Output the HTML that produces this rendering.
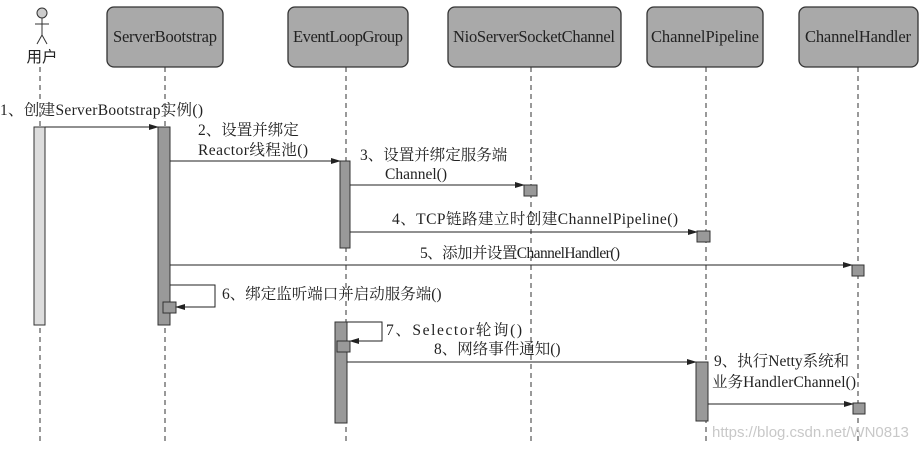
<!DOCTYPE html>
<html><head><meta charset="utf-8"><style>
body{margin:0;background:#fff;}
svg text{font-family:"Liberation Serif","Noto Serif CJK SC",serif;font-size:15.5px;fill:#222;}
svg text.h{font-size:16.5px;}
</style></head><body>
<svg width="923" height="449" viewBox="0 0 923 449" xmlns="http://www.w3.org/2000/svg">
<defs>
<marker id="a" markerWidth="10" markerHeight="8" refX="9" refY="4" orient="auto" markerUnits="userSpaceOnUse">
<path d="M0,1 L10,4 L0,7 Z" fill="#222"/></marker>
</defs>
<g fill="#a9a9a9" stroke="#333" stroke-width="1.3">
<rect x="107" y="7" width="116" height="60" rx="7"/>
<rect x="288" y="7" width="120" height="60" rx="7"/>
<rect x="448" y="7" width="173" height="60" rx="7"/>
<rect x="647" y="7" width="116" height="60" rx="7"/>
<rect x="799" y="7" width="119" height="60" rx="7"/>
</g>
<text class="h" x="165" y="42" text-anchor="middle" textLength="104">ServerBootstrap</text>
<text class="h" x="348" y="42" text-anchor="middle" textLength="110">EventLoopGroup</text>
<text class="h" x="534" y="42" text-anchor="middle" textLength="162">NioServerSocketChannel</text>
<text class="h" x="705" y="42" text-anchor="middle" textLength="108">ChannelPipeline</text>
<text class="h" x="858" y="42" text-anchor="middle" textLength="106">ChannelHandler</text>
<g stroke="#333" stroke-width="1" fill="none">
<circle cx="42" cy="13" r="5" fill="#ccc"/>
<line x1="42" y1="18" x2="42" y2="35"/><line x1="35" y1="24" x2="49" y2="24"/>
<line x1="42" y1="35" x2="37" y2="44"/><line x1="42" y1="35" x2="47" y2="44"/>
</g>
<text x="42" y="62" text-anchor="middle" style="font-family:'Noto Sans CJK SC',sans-serif">用户</text>
<g stroke="#333" stroke-width="1" stroke-dasharray="5,4">
<line x1="40" y1="67" x2="40" y2="445"/>
<line x1="165" y1="67" x2="165" y2="445"/>
<line x1="346" y1="67" x2="346" y2="445"/>
<line x1="531" y1="67" x2="531" y2="445"/>
<line x1="706" y1="67" x2="706" y2="445"/>
<line x1="858" y1="67" x2="858" y2="445"/>
</g>
<g stroke="#333" stroke-width="1">
<rect x="34" y="127" width="11" height="198" fill="#ddd"/>
<rect x="158" y="127" width="12" height="198" fill="#999"/>
<rect x="340" y="161" width="10" height="87" fill="#999"/>
<rect x="335" y="322" width="12" height="101" fill="#999"/>
<rect x="696" y="362" width="12" height="59" fill="#999"/>
<rect x="524" y="185" width="13" height="11" fill="#999"/>
<rect x="697" y="231" width="13" height="11" fill="#999"/>
<rect x="852" y="265" width="12" height="11" fill="#999"/>
<rect x="163" y="302" width="13" height="11" fill="#999"/>
<rect x="337" y="341" width="13" height="11" fill="#999"/>
<rect x="853" y="403" width="12" height="11" fill="#999"/>
</g>
<g stroke="#222" stroke-width="1" fill="none" marker-end="url(#a)">
<line x1="45" y1="127" x2="158" y2="127"/>
<line x1="170" y1="161" x2="340" y2="161"/>
<line x1="350" y1="185" x2="524" y2="185"/>
<line x1="350" y1="232" x2="697" y2="232"/>
<line x1="170" y1="265" x2="852" y2="265"/>
<polyline points="170,285 215,285 215,307 176,307"/>
<polyline points="347,322 382,322 382,341 350,341"/>
<line x1="347" y1="362" x2="696" y2="362"/>
<line x1="708" y1="404" x2="853" y2="404"/>
</g>
<text x="0" y="115" textLength="203">1、创建ServerBootstrap实例()</text>
<text x="198" y="135">2、设置并绑定</text>
<text x="198" y="155" textLength="110">Reactor线程池()</text>
<text x="360" y="160">3、设置并绑定服务端</text>
<text x="385" y="179">Channel()</text>
<text x="392" y="224" textLength="286">4、TCP链路建立时创建ChannelPipeline()</text>
<text x="420" y="258" textLength="200">5、添加并设置ChannelHandler()</text>
<text x="222" y="299">6、绑定监听端口并启动服务端()</text>
<text x="386" y="335" textLength="136">7、Selector轮询()</text>
<text x="434" y="354">8、网络事件通知()</text>
<text x="714" y="366">9、执行Netty系统和</text>
<text x="712" y="387" textLength="144">业务HandlerChannel()</text>
<text x="712" y="437" style="font-family:'Liberation Sans',sans-serif;font-size:15px;fill:#c8c8c8">https://blog.csdn.net/WN0813</text>
</svg>
</body></html>
